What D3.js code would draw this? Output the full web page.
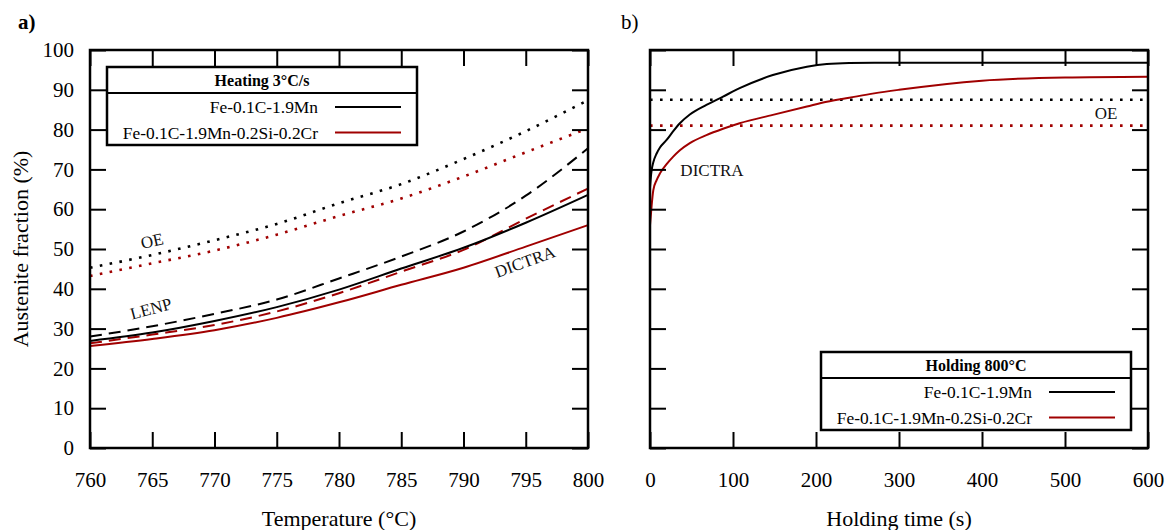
<!DOCTYPE html>
<html>
<head>
<meta charset="utf-8">
<script src="https://cdn.jsdelivr.net/npm/d3@7"></script>
<style>
  body { margin: 0; background: #fff; }
  svg { display: block; font-family: "Liberation Serif", "Times New Roman", serif; }
</style>
</head>
<body>
<svg id="chart" width="1166" height="530"></svg>
<script>
// ---------- Data ----------
// Panel a) heating at 3 °C/s
const temps = [760, 765, 770, 775, 780, 785, 790, 795, 800];
const oeFeMn         = [45.3, 48.5, 52.2, 56.3, 61.5, 66.3, 72.6, 79.6, 87.4];
const oeFeMnSiCr     = [43.2, 46.4, 49.6, 53.6, 58.3, 62.7, 68.2, 74.3, 80.3];
const lenpFeMn       = [28.0, 30.6, 33.7, 37.3, 42.6, 48.1, 54.4, 63.4, 75.3];
const lenpFeMnSiCr   = [26.3, 28.5, 30.9, 34.3, 38.9, 44.3, 49.8, 57.6, 65.2];
const dictraFeMn     = [26.9, 29.0, 31.9, 35.4, 39.8, 45.1, 50.3, 56.6, 63.6];
const dictraFeMnSiCr = [25.6, 27.4, 29.6, 32.7, 36.6, 41.0, 45.3, 50.6, 56.0];

// Panel b) holding at 800 °C
const holdTime          = [0, 1, 2, 4, 8, 12, 20, 28, 36, 48, 68, 88, 108, 148, 189, 213, 240, 270, 300, 400, 500, 600];
const holdDictraFeMn     = [65.5, 68.0, 69.8, 71.8, 74.0, 75.5, 77.4, 79.6, 81.6, 83.8, 86.2, 88.3, 90.4, 93.7, 95.8, 96.5, 96.75, 96.8, 96.8, 96.8, 96.8, 96.8];
const holdDictraFeMnSiCr = [56.0, 58.5, 61.0, 64.8, 67.3, 69.0, 71.3, 73.2, 74.8, 76.6, 78.6, 80.2, 81.6, 83.7, 85.8, 87.0, 88.0, 89.1, 90.0, 92.3, 93.1, 93.3];
const holdOeTime     = [0, 600];
const holdOeFeMn     = [87.5, 87.5];
const holdOeFeMnSiCr = [81.0, 81.0];

// Ticks
const tempTicks = [760, 765, 770, 775, 780, 785, 790, 795, 800];
const timeTicks = [0, 100, 200, 300, 400, 500, 600];
const fracTicks = [0, 10, 20, 30, 40, 50, 60, 70, 80, 90, 100];

const legendNames = ["Fe-0.1C-1.9Mn", "Fe-0.1C-1.9Mn-0.2Si-0.2Cr"];

// ---------- Style ----------
const BLACK = "#000000";
const RED = "#a00000";
const svg = d3.select("#chart");

const top_ = 50, bottom_ = 448;
const y = d3.scaleLinear().domain([0, 100]).range([bottom_, top_]);

function styleFor(kind) {
  if (kind === "dot") return { w: 2.6, dash: "2.6,7.4" };
  if (kind === "dash") return { w: 2, dash: "12,7" };
  return { w: 2, dash: null };
}

function drawPanel(opts) {
  const x = d3.scaleLinear().domain(opts.domain).range([opts.left, opts.right]);
  const g = svg.append("g");

  // Series
  const line = d3.line().x(d => x(d[0])).y(d => y(d[1])).curve(d3.curveMonotoneX);
  opts.series.forEach(s => {
    const st = styleFor(s.kind);
    g.append("path")
      .datum(s.xs.map((v, i) => [v, s.ys[i]]))
      .attr("d", line)
      .attr("fill", "none")
      .attr("stroke", s.color)
      .attr("stroke-width", st.w)
      .attr("stroke-dasharray", st.dash);
  });

  // Axes (inward ticks on all four sides)
  const tick = 16;
  const bottomAx = g.append("g").attr("transform", `translate(0,${bottom_})`)
    .call(d3.axisBottom(x).tickValues(opts.xTicks).tickSizeInner(-tick).tickSizeOuter(0).tickPadding(24).tickFormat(d3.format("d")));
  const topAx = g.append("g").attr("transform", `translate(0,${top_})`)
    .call(d3.axisTop(x).tickValues(opts.xTicks).tickSizeInner(-tick).tickSizeOuter(0).tickFormat(""));
  const leftAx = g.append("g").attr("transform", `translate(${opts.left},0)`)
    .call(d3.axisLeft(y).tickValues(fracTicks).tickSizeInner(-tick).tickSizeOuter(0).tickPadding(16)
      .tickFormat(opts.yLabels ? d3.format("d") : ""));
  const rightAx = g.append("g").attr("transform", `translate(${opts.right},0)`)
    .call(d3.axisRight(y).tickValues(fracTicks).tickSizeInner(-tick).tickSizeOuter(0).tickFormat(""));
  [bottomAx, topAx, leftAx, rightAx].forEach(a => {
    a.select(".domain").remove();
    a.selectAll(".tick line").attr("stroke", BLACK).attr("stroke-width", 2);
    a.selectAll(".tick text").attr("font-size", 21).attr("fill", BLACK)
      .attr("font-family", "Liberation Serif");
  });

  // Frame
  g.append("rect").attr("x", opts.left).attr("y", top_)
    .attr("width", opts.right - opts.left).attr("height", bottom_ - top_)
    .attr("fill", "none").attr("stroke", BLACK).attr("stroke-width", 2.5);

  // Axis title
  g.append("text").attr("x", (opts.left + opts.right) / 2).attr("y", 526)
    .attr("text-anchor", "middle").attr("font-size", 22).text(opts.xTitle);

  // Panel letter
  g.append("text").attr("x", opts.letterX).attr("y", 29)
    .attr("font-size", 21).attr("font-weight", opts.letterBold ? "bold" : "normal").text(opts.letter);

  // Annotations
  opts.notes.forEach(n => {
    g.append("text").attr("transform", `translate(${n.x},${n.y}) rotate(${n.r})`)
      .attr("text-anchor", "middle").attr("dominant-baseline", "central")
      .attr("font-size", 17).attr("fill", "#111").text(n.t);
  });

  // Legend
  const L = opts.legend;
  const lg = g.append("g").attr("transform", `translate(${L.x},${L.y})`);
  lg.append("rect").attr("width", 310).attr("height", 78)
    .attr("fill", "#fff").attr("stroke", BLACK).attr("stroke-width", 2.5);
  lg.append("line").attr("x1", 0).attr("x2", 310).attr("y1", 26).attr("y2", 26)
    .attr("stroke", BLACK).attr("stroke-width", 2);
  lg.append("text").attr("x", 155).attr("y", 13).attr("text-anchor", "middle")
    .attr("dominant-baseline", "central").attr("font-size", 16).attr("font-weight", "bold").text(L.title);
  [BLACK, RED].forEach((c, i) => {
    const yy = 40 + i * 25.5;
    lg.append("text").attr("x", 211).attr("y", yy).attr("text-anchor", "end")
      .attr("dominant-baseline", "central").attr("font-size", 17.4).text(legendNames[i]);
    lg.append("line").attr("x1", 228).attr("x2", 294).attr("y1", yy).attr("y2", yy)
      .attr("stroke", c).attr("stroke-width", 2);
  });
}

drawPanel({
  left: 90, right: 588, domain: [760, 800], xTicks: tempTicks, yLabels: true,
  xTitle: "Temperature (°C)", letter: "a)", letterBold: true, letterX: 18,
  series: [
    { xs: temps, ys: oeFeMn, color: BLACK, kind: "dot" },
    { xs: temps, ys: oeFeMnSiCr, color: RED, kind: "dot" },
    { xs: temps, ys: lenpFeMn, color: BLACK, kind: "dash" },
    { xs: temps, ys: lenpFeMnSiCr, color: RED, kind: "dash" },
    { xs: temps, ys: dictraFeMnSiCr, color: RED, kind: "solid" },
    { xs: temps, ys: dictraFeMn, color: BLACK, kind: "solid" }
  ],
  notes: [
    { t: "OE", x: 152, y: 241, r: -13 },
    { t: "LENP", x: 151, y: 309, r: -15 },
    { t: "DICTRA", x: 525, y: 262, r: -20 }
  ],
  legend: { x: 107, y: 67, title: "Heating 3°C/s" }
});

drawPanel({
  left: 650, right: 1148, domain: [0, 600], xTicks: timeTicks, yLabels: false,
  xTitle: "Holding time (s)", letter: "b)", letterBold: false, letterX: 621,
  series: [
    { xs: holdOeTime, ys: holdOeFeMn, color: BLACK, kind: "dot" },
    { xs: holdOeTime, ys: holdOeFeMnSiCr, color: RED, kind: "dot" },
    { xs: holdTime, ys: holdDictraFeMnSiCr, color: RED, kind: "solid" },
    { xs: holdTime, ys: holdDictraFeMn, color: BLACK, kind: "solid" }
  ],
  notes: [
    { t: "DICTRA", x: 712, y: 170, r: 0 },
    { t: "OE", x: 1106, y: 113, r: 0 }
  ],
  legend: { x: 821, y: 352, title: "Holding 800°C" }
});

// Y axis title
svg.append("text").attr("transform", "translate(28,249) rotate(-90)")
  .attr("text-anchor", "middle").attr("font-size", 22).text("Austenite fraction (%)");
</script>
</body>
</html>
